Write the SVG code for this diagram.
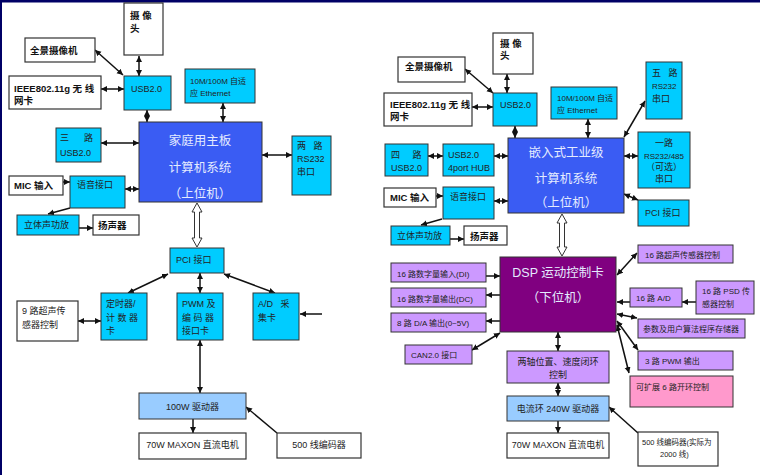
<svg xmlns="http://www.w3.org/2000/svg" width="760" height="475" viewBox="0 0 760 475">
<style>
text{font-family:"Liberation Sans","Noto Sans CJK SC",sans-serif;font-size:9px;fill:#222;white-space:pre}
.b{font-weight:bold;font-size:9.5px;fill:#111}
.m{font-size:12.5px;fill:#e4ebff;text-anchor:middle}
.c{text-anchor:middle}
.s{font-size:8px}
.xs{font-size:7.5px}
.w{fill:#fff;stroke:#333;stroke-width:1.2}
.cy{fill:#00ccff;stroke:#333;stroke-width:1}
.bl{fill:#3a5cf3;stroke:#333;stroke-width:1}
.pu{fill:#800080;stroke:#333;stroke-width:1}
.lp{fill:#cc99ff;stroke:#333;stroke-width:1}
.pk{fill:#ff99cc;stroke:#333;stroke-width:1}
.lb{fill:#99ccff;stroke:#333;stroke-width:1}
.l{stroke:#111;stroke-width:1.5;fill:none}
.d{marker-start:url(#ah);marker-end:url(#ah)}
.e{marker-end:url(#ah)}
.h{fill:#fff;stroke:#333;stroke-width:1}
</style>
<defs>
<marker id="ah" markerUnits="userSpaceOnUse" markerWidth="7" markerHeight="7" refX="6" refY="3" orient="auto-start-reverse">
<path d="M0,0 L6,3 L0,6 z" fill="#111"/>
</marker>
</defs>
<rect x="0" y="0" width="760" height="475" fill="#fff"/>
<rect x="0" y="0" width="760" height="2.5" fill="#000066"/>
<rect x="0" y="0" width="2" height="475" fill="#000066"/>

<g id="connectors">
<line class="l d" x1="95" y1="50" x2="123" y2="75"/>
<line class="l d" x1="139" y1="56" x2="139" y2="76"/>
<line class="l d" x1="101" y1="89" x2="124" y2="89"/>
<line class="l d" x1="147" y1="110" x2="147" y2="122"/>
<line class="l d" x1="101" y1="143" x2="139" y2="143"/>
<line class="l d" x1="223" y1="103" x2="223" y2="122"/>
<line class="l d" x1="262" y1="155" x2="292" y2="155"/>
<line class="l e" x1="63" y1="182" x2="70" y2="182"/>
<line class="l d" x1="125" y1="189" x2="139" y2="189"/>
<line class="l e" x1="70" y1="208" x2="48" y2="214"/>
<line class="l e" x1="79" y1="228" x2="93" y2="228"/>
<polygon class="h" points="197,203 202,212 199.5,212 199.5,238 202,238 197,247 192,238 194.5,238 194.5,212 192,212"/>
<line class="l d" x1="168" y1="274" x2="128" y2="293"/>
<line class="l d" x1="200" y1="273" x2="200" y2="293"/>
<line class="l d" x1="224" y1="274" x2="275" y2="293"/>
<line class="l d" x1="78" y1="321" x2="101" y2="321"/>
<line class="l e" x1="322" y1="314" x2="300" y2="314"/>
<line class="l d" x1="200" y1="340" x2="200" y2="393"/>
<line class="l e" x1="193" y1="419" x2="193" y2="433"/>
<line class="l e" x1="277" y1="433" x2="246" y2="407"/>
<line class="l d" x1="465" y1="69" x2="493" y2="93"/>
<line class="l d" x1="507" y1="74" x2="507" y2="93"/>
<line class="l d" x1="472" y1="107" x2="493" y2="107"/>
<line class="l d" x1="515" y1="126" x2="515" y2="138"/>
<line class="l d" x1="428" y1="156" x2="443" y2="156"/>
<line class="l d" x1="494" y1="156" x2="508" y2="156"/>
<line class="l d" x1="588" y1="119" x2="588" y2="138"/>
<line class="l d" x1="645" y1="101" x2="624" y2="137"/>
<line class="l d" x1="624" y1="156" x2="638" y2="156"/>
<line class="l d" x1="624" y1="194" x2="638" y2="200"/>
<line class="l e" x1="436" y1="196" x2="443" y2="196"/>
<line class="l d" x1="494" y1="201" x2="508" y2="201"/>
<line class="l e" x1="442" y1="219" x2="421" y2="225"/>
<line class="l e" x1="450" y1="239" x2="464" y2="239"/>
<polygon class="h" points="562,214 567,223 564.5,223 564.5,247 567,247 562,256 557,247 559.5,247 559.5,223 557,223"/>
<line class="l e" x1="486" y1="276" x2="500" y2="276"/>
<line class="l e" x1="500" y1="295" x2="486" y2="295"/>
<line class="l e" x1="500" y1="321" x2="486" y2="321"/>
<line class="l d" x1="472" y1="350" x2="500" y2="333"/>
<line class="l d" x1="558" y1="332" x2="558" y2="351"/>
<line class="l d" x1="558" y1="383" x2="558" y2="396"/>
<line class="l e" x1="558" y1="421" x2="558" y2="433"/>
<line class="l e" x1="638" y1="433" x2="609" y2="407"/>
<line class="l d" x1="637" y1="253" x2="617" y2="275"/>
<line class="l e" x1="630" y1="302" x2="617" y2="302"/>
<line class="l e" x1="696" y1="302" x2="682" y2="302"/>
<line class="l d" x1="617" y1="314" x2="637" y2="318"/>
<line class="l d" x1="617" y1="321" x2="638" y2="350"/>
<line class="l d" x1="617" y1="325" x2="629" y2="373"/>
</g>

<g id="L-camera"><rect class="w" x="124" y="3" width="39" height="52"/><text class="b" x="130" y="19">摄 像</text><text class="b" x="130" y="32">头</text></g>
<g id="L-pano"><rect class="w" x="25" y="38" width="70" height="24"/><text class="b" x="30" y="54">全景摄像机</text></g>
<g id="L-wifi"><rect class="w" x="9" y="76" width="92" height="33"/><text class="b" x="14" y="92">IEEE802.11g 无 线</text><text class="b" x="14" y="104">网卡</text></g>
<g id="L-usb"><rect class="cy" x="124" y="76" width="47" height="34"/><text x="131" y="92">USB2.0</text></g>
<g id="L-eth"><rect class="cy" x="185" y="69" width="70" height="34"/><text class="s" x="190" y="84">10M/100M 自适</text><text class="s" x="190" y="96">应 Ethernet</text></g>
<g id="L-main"><rect class="bl" x="139" y="122" width="123" height="80"/><text class="m" x="200" y="145">家庭用主板</text><text class="m" x="200" y="172">计算机系统</text><text class="m" x="200" y="198">（上位机）</text></g>
<g id="L-usb3"><rect class="cy" x="56" y="128" width="45" height="34"/><text x="60" y="141">三      路</text><text x="60" y="156">USB2.0</text></g>
<g id="L-rs232"><rect class="cy" x="292" y="136" width="39" height="59"/><text x="297" y="149">两   路</text><text x="297" y="162">RS232</text><text x="297" y="175">串口</text></g>
<g id="L-mic"><rect class="w" x="9" y="176" width="54" height="19"/><text class="b" x="14" y="189">MIC 输入</text></g>
<g id="L-voice"><rect class="cy" x="70" y="176" width="55" height="32"/><text x="77" y="188">语音接口</text></g>
<g id="L-amp"><rect class="cy" x="17" y="215" width="62" height="20"/><text x="24" y="228">立体声功放</text></g>
<g id="L-spk"><rect class="w" x="93" y="215" width="46" height="20"/><text class="b" x="98" y="229">扬声器</text></g>
<g id="L-pci"><rect class="cy" x="170" y="248" width="54" height="25"/><text x="176" y="263">PCI 接口</text></g>
<g id="L-us9"><rect class="w" x="17" y="301" width="61" height="40"/><text x="22" y="314">9 路超声传</text><text x="22" y="328">感器控制</text></g>
<g id="L-timer"><rect class="cy" x="101" y="293" width="46" height="47"/><text x="106" y="307">定时器/</text><text x="106" y="321">计 数 器</text><text x="106" y="334">卡</text></g>
<g id="L-pwm"><rect class="cy" x="177" y="293" width="46" height="47"/><text x="182" y="307">PWM 及</text><text x="182" y="321">编 码 器</text><text x="182" y="334">接口卡</text></g>
<g id="L-ad"><rect class="cy" x="253" y="293" width="46" height="47"/><text x="258" y="307">A/D   采</text><text x="258" y="321">集卡</text></g>
<g id="L-drv"><rect class="lb" x="139" y="393" width="107" height="26"/><text class="c" x="192.5" y="410">100W 驱动器</text></g>
<g id="L-motor"><rect class="w" x="139" y="433" width="107" height="26"/><text class="c" x="192.5" y="448">70W MAXON 直流电机</text></g>
<g id="L-enc"><rect class="w" x="277" y="433" width="84" height="25"/><text class="c" x="319" y="448">500 线编码器</text></g>

<g id="R-camera"><rect class="w" x="493" y="33" width="40" height="41"/><text class="b" x="500" y="47">摄 像</text><text class="b" x="500" y="59">头</text></g>
<g id="R-pano"><rect class="w" x="398" y="57" width="67" height="25"/><text class="b" x="405" y="70">全景摄像机</text></g>
<g id="R-wifi"><rect class="w" x="384" y="93" width="88" height="33"/><text class="b" x="390" y="108">IEEE802.11g 无 线</text><text class="b" x="390" y="120">网卡</text></g>
<g id="R-usb"><rect class="cy" x="493" y="93" width="44" height="33"/><text x="500" y="108">USB2.0</text></g>
<g id="R-eth"><rect class="cy" x="551" y="87" width="66" height="32"/><text class="s" x="557" y="101">10M/100M 自适</text><text class="s" x="557" y="113">应 Ethernet</text></g>
<g id="R-rs232x5"><rect class="cy" x="646" y="62" width="36" height="57"/><text x="652" y="76">五   路</text><text class="s" x="652" y="89">RS232</text><text x="652" y="102">串口</text></g>
<g id="R-main"><rect class="bl" x="508" y="138" width="116" height="75"/><text class="m" x="566" y="157">嵌入式工业级</text><text class="m" x="566" y="183">计算机系统</text><text class="m" x="566" y="207">（上位机）</text></g>
<g id="R-usb4"><rect class="cy" x="385" y="144" width="43" height="32"/><text x="391" y="158">四     路</text><text x="391" y="171">USB2.0</text></g>
<g id="R-hub"><rect class="cy" x="443" y="144" width="51" height="32"/><text x="448" y="158">USB2.0</text><text x="448" y="171">4port HUB</text></g>
<g id="R-rs485"><rect class="cy" x="638" y="132" width="52" height="56"/><text class="c" x="664" y="146">一路</text><text class="c s" x="664" y="159">RS232/485</text><text class="c" x="664" y="170">（可选）</text><text class="c" x="664" y="182">串口</text></g>
<g id="R-pci"><rect class="cy" x="638" y="200" width="51" height="26"/><text x="645" y="216">PCI 接口</text></g>
<g id="R-mic"><rect class="w" x="384" y="188" width="52" height="19"/><text class="b" x="390" y="201">MIC 输入</text></g>
<g id="R-voice"><rect class="cy" x="443" y="187" width="51" height="32"/><text x="450" y="200">语音接口</text></g>
<g id="R-amp"><rect class="cy" x="391" y="226" width="59" height="19"/><text x="397" y="239">立体声功放</text></g>
<g id="R-spk"><rect class="w" x="464" y="226" width="43" height="19"/><text class="b" x="470" y="240">扬声器</text></g>
<g id="R-dsp"><rect class="pu" x="500" y="257" width="116" height="75"/><text class="m" x="558" y="277">DSP 运动控制卡</text><text class="m" x="558" y="302">（下位机）</text></g>
<g id="R-di"><rect class="lp" x="391" y="263" width="95" height="19"/><text class="s" x="397" y="277">16 路数字量输入(DI)</text></g>
<g id="R-do"><rect class="lp" x="391" y="288" width="95" height="19"/><text class="s" x="397" y="302">16 路数字量输出(DC)</text></g>
<g id="R-da"><rect class="lp" x="391" y="313" width="95" height="19"/><text class="s" x="397" y="326">8 路 D/A 输出(0~5V)</text></g>
<g id="R-can"><rect class="lp" x="405" y="345" width="67" height="19"/><text class="s" x="411" y="358">CAN2.0 接口</text></g>
<g id="R-loop"><rect class="lp" x="507" y="351" width="102" height="32"/><text class="c" x="558" y="365">两轴位置、速度闭环</text><text class="c" x="558" y="378">控制</text></g>
<g id="R-drv"><rect class="lb" x="507" y="396" width="102" height="25"/><text class="c" x="558" y="412">电流环 240W 驱动器</text></g>
<g id="R-motor"><rect class="w" x="507" y="433" width="102" height="25"/><text class="c" x="558" y="448">70W MAXON 直流电机</text></g>
<g id="R-enc"><rect class="w" x="638" y="432" width="80" height="34"/><text class="xs" x="642" y="445">500 线编码器(实际为</text><text class="xs" x="660" y="457">2000 线)</text></g>
<g id="R-us16"><rect class="lp" x="638" y="245" width="95" height="18"/><text class="s" x="645" y="258">16 路超声传感器控制</text></g>
<g id="R-ad16"><rect class="lp" x="630" y="288" width="52" height="19"/><text class="s" x="636" y="301">16 路 A/D</text></g>
<g id="R-psd"><rect class="lp" x="696" y="281" width="58" height="33"/><text class="s" x="702" y="294">16 路 PSD 传</text><text class="s" x="702" y="307">感器控制</text></g>
<g id="R-mem"><rect class="lp" x="638" y="319" width="107" height="19"/><text class="s" x="643" y="332">参数及用户算法程序存储器</text></g>
<g id="R-pwm3"><rect class="lp" x="638" y="351" width="95" height="19"/><text class="s" x="645" y="364">3 路 PWM 输出</text></g>
<g id="R-ext"><rect class="pk" x="630" y="376" width="103" height="31"/><text class="s" x="636" y="390">可扩展 6 路开环控制</text></g>
</svg>
